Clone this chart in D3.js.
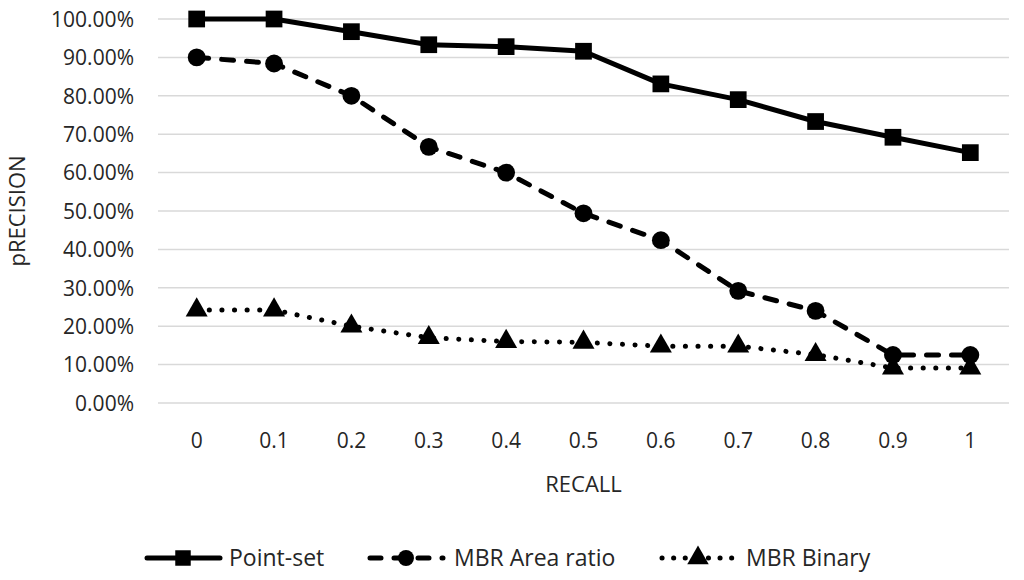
<!DOCTYPE html>
<html>
<head>
<meta charset="utf-8">
<script src="https://cdn.jsdelivr.net/npm/d3@7"></script>
<style>
  body { margin: 0; background: #fff; }
  text { font-family: "Open Sans", sans-serif; fill: #262626; }
</style>
</head>
<body>
<div id="chart"></div>
<script>
const recall = ['0', '0.1', '0.2', '0.3', '0.4', '0.5', '0.6', '0.7', '0.8', '0.9', '1'];
const pointSet = [100, 100, 96.7, 93.3, 92.8, 91.6, 83.1, 79.0, 73.3, 69.2, 65.2];
const mbrArea = [90.0, 88.4, 80.0, 66.7, 60.0, 49.4, 42.4, 29.2, 24.0, 12.5, 12.5];
const mbrBinary = [24.2, 24.2, 20.0, 17.0, 16.0, 15.8, 14.8, 14.8, 12.6, 9.1, 9.1];
const yTicks = [0, 10, 20, 30, 40, 50, 60, 70, 80, 90, 100];

const series = [
    { name: 'Point-set', values: pointSet, dash: null, marker: 'square' },
    { name: 'MBR Area ratio', values: mbrArea, dash: '12 13', marker: 'circle' },
    { name: 'MBR Binary', values: mbrBinary, dash: '0.1 12.5', marker: 'triangle' },
];

const width = 1024, height = 580;
const margin = { top: 19, right: 15, bottom: 177, left: 158 };

const svg = d3.select('#chart').append('svg')
    .attr('width', width)
    .attr('height', height);

const x = d3.scaleBand()
    .domain(recall)
    .range([margin.left, width - margin.right]);

const y = d3.scaleLinear()
    .domain([0, 100])
    .range([height - margin.bottom, margin.top]);

// gridlines
svg.append('g')
    .selectAll('line')
    .data(yTicks)
    .enter()
    .append('line')
    .attr('x1', margin.left)
    .attr('x2', width - margin.right)
    .attr('y1', d => y(d))
    .attr('y2', d => y(d))
    .style('stroke', '#d9d9d9')
    .style('stroke-width', 1.5);

// y axis labels
const yAxis = d3.axisLeft(y).tickValues(yTicks).tickFormat(d => d.toFixed(2) + '%').tickSize(0).tickPadding(0);
const gy = svg.append('g')
    .attr('transform', `translate(${margin.left - 24}, 0)`)
    .call(yAxis);
gy.select('.domain').remove();
gy.selectAll('text')
    .style('font-size', '21px')
    .style('font-family', '"Open Sans", sans-serif')
    .attr('fill', '#262626')
    .attr('dy', '0.35em');

// x axis labels
const xAxis = d3.axisBottom(x).tickSize(0).tickPadding(0);
const gx = svg.append('g')
    .attr('transform', `translate(0, ${y(0) + 38})`)
    .call(xAxis);
gx.select('.domain').remove();
gx.selectAll('text')
    .style('font-size', '21px')
    .style('font-family', '"Open Sans", sans-serif')
    .attr('fill', '#262626')
    .attr('dy', '0.35em');

// axis titles
svg.append('text')
    .attr('x', x('0.5') + x.bandwidth() / 2)
    .attr('y', 486)
    .attr('text-anchor', 'middle')
    .attr('dominant-baseline', 'middle')
    .style('font-size', '22px')
    .text('RECALL');

svg.append('text')
    .attr('transform', `translate(19, ${y(50)}) rotate(-90)`)
    .attr('text-anchor', 'middle')
    .attr('dominant-baseline', 'middle')
    .style('font-size', '22px')
    .text('pRECISION');

const cx = d => x(d) + x.bandwidth() / 2;

const symbols = {
    square: d3.symbol().type(d3.symbolSquare).size(280),
    circle: d3.symbol().type(d3.symbolCircle).size(250),
    triangle: d3.symbol().type(d3.symbolTriangle).size(210),
};

const line = d3.line()
    .x((d, i) => cx(recall[i]))
    .y(d => y(d));

series.forEach(s => {
    svg.append('path')
        .datum(s.values)
        .attr('d', line)
        .style('fill', 'none')
        .style('stroke', '#000')
        .style('stroke-width', 5)
        .style('stroke-linecap', 'round')
        .style('stroke-linejoin', 'round')
        .style('stroke-dasharray', s.dash);

    svg.append('g')
        .selectAll('path')
        .data(s.values)
        .enter()
        .append('path')
        .attr('d', symbols[s.marker])
        .attr('transform', (d, i) => `translate(${cx(recall[i])}, ${y(d)})`)
        .style('fill', '#000');
});

// legend
const legendX = [145, 368, 660];
const legendY = 558;
const legend = svg.append('g')
    .selectAll('g')
    .data(series)
    .enter()
    .append('g')
    .attr('transform', (d, i) => `translate(${legendX[i]}, ${legendY})`);

legend.append('line')
    .attr('x1', 2)
    .attr('x2', 75)
    .style('stroke', '#000')
    .style('stroke-width', 5)
    .style('stroke-linecap', 'round')
    .style('stroke-dasharray', d => d.dash ? (d.marker === 'circle' ? '11 13' : '0.1 11.5') : null);

legend.append('path')
    .attr('d', d => symbols[d.marker].size(d.marker === 'square' ? 240 : 200)())
    .attr('transform', 'translate(38, 0)')
    .style('fill', '#000');

legend.append('text')
    .attr('x', d => d.marker === 'square' ? 84 : 86)
    .attr('dy', '0.35em')
    .style('font-size', '23px')
    .text(d => d.name);
</script>
</body>
</html>
